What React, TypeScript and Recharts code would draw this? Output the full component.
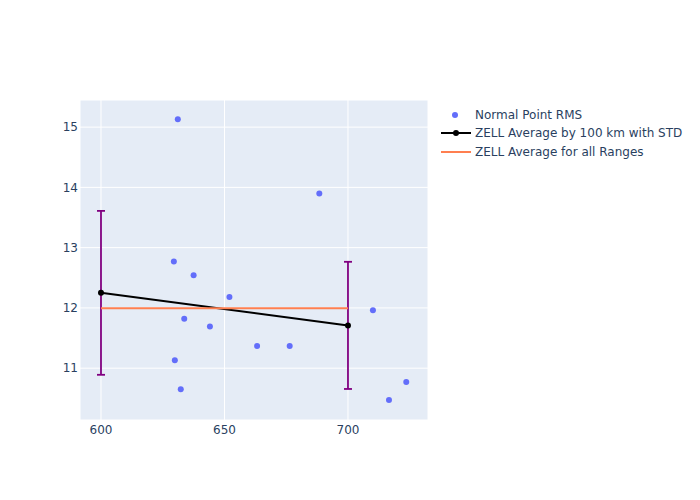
import React from "react";
import {
  ComposedChart,
  Scatter,
  Line,
  XAxis,
  YAxis,
  CartesianGrid,
  ErrorBar,
} from "recharts";

const rmsX = [631.1, 688.4, 629.5, 637.5, 652.0, 633.7, 644.1, 710.1, 663.2, 676.4, 629.9, 632.3, 716.6, 723.6];
const rmsY = [15.13, 13.9, 12.77, 12.54, 12.18, 11.82, 11.69, 11.96, 11.37, 11.37, 11.13, 10.65, 10.47, 10.77];

const avgX = [600, 700];
const avgY = [12.25, 11.71];
const avgStd = [1.36, 1.055];

const allX = [600, 700];
const allY = [11.995, 11.995];

const xTicks = [600, 650, 700];
const yTicks = [11, 12, 13, 14, 15];

const seriesNames = [
  "Normal Point RMS",
  "ZELL Average by 100 km with STD",
  "ZELL Average for all Ranges",
];

const rmsData = rmsX.map((x, i) => ({ x, y: rmsY[i] }));
const avgData = avgX.map((x, i) => ({ x, y: avgY[i], err: avgStd[i] }));
const allData = allX.map((x, i) => ({ x, y: allY[i] }));

const FONT = '"DejaVu Sans", Verdana, sans-serif';
const TEXT = "#2a3f5f";

const LegendBox = () => (
  <svg width={264} height={60} style={{ position: "absolute", left: 436, top: 104, display: "block" }}>
    <g>
      <circle cx={19} cy={11} r={3} fill="#636efa" />
      <text x={39} y={11} dy="0.35em" fontSize={12} fill={TEXT} fontFamily={FONT}>
        {seriesNames[0]}
      </text>
    </g>
    <g>
      <line x1={5} x2={35} y1={29} y2={29} stroke="#000" strokeWidth={2} />
      <circle cx={20} cy={29} r={3} fill="#000" />
      <text x={39} y={29} dy="0.35em" fontSize={12} fill={TEXT} fontFamily={FONT}>
        {seriesNames[1]}
      </text>
    </g>
    <g>
      <line x1={5} x2={35} y1={48} y2={48} stroke="#ff7f50" strokeWidth={2} />
      <text x={39} y={48} dy="0.35em" fontSize={12} fill={TEXT} fontFamily={FONT}>
        {seriesNames[2]}
      </text>
    </g>
  </svg>
);

export default function App() {
  return (
    <div style={{ position: "absolute", left: 0, top: 0, width: 700, height: 500, background: "#fff", fontFamily: FONT }}>
      <ComposedChart
        width={700}
        height={500}
        margin={{ top: 100, right: 272, bottom: 0, left: 0 }}
      >
        <CartesianGrid fill="#E5ECF6" stroke="#ffffff" strokeWidth={1} horizontal vertical />
        <XAxis
          dataKey="x"
          type="number"
          domain={[591.5, 732.4]}
          ticks={xTicks}
          allowDataOverflow
          height={80}
          axisLine={false}
          tickLine={false}
          tickSize={0}
          tickMargin={5}
          tick={{ fill: TEXT, fontSize: 12, fontFamily: FONT }}
        />
        <YAxis
          dataKey="y"
          type="number"
          domain={[10.14, 15.45]}
          ticks={yTicks}
          allowDataOverflow
          width={80}
          axisLine={false}
          tickLine={false}
          tickSize={0}
          tickMargin={2}
          tick={{ fill: TEXT, fontSize: 12, fontFamily: FONT }}
        />
        <Scatter
          name={seriesNames[0]}
          data={rmsData}
          dataKey="y"
          fill="#636efa"
          isAnimationActive={false}
          shape={(p: any) => <circle cx={p.cx} cy={p.cy} r={3} fill="#636efa" />}
        />
        <Line
          name={seriesNames[1]}
          data={avgData}
          dataKey="y"
          stroke="#000"
          strokeWidth={2}
          dot={{ r: 3, fill: "#000", stroke: "#000", strokeWidth: 0 }}
          activeDot={false}
          isAnimationActive={false}
        >
          <ErrorBar dataKey="err" width={4} stroke="#800080" strokeWidth={1.8} direction="y" isAnimationActive={false} />
        </Line>
        <Line
          name={seriesNames[2]}
          data={allData}
          dataKey="y"
          stroke="#ff7f50"
          strokeWidth={2}
          dot={false}
          activeDot={false}
          isAnimationActive={false}
        />
      </ComposedChart>
      <LegendBox />
    </div>
  );
}
